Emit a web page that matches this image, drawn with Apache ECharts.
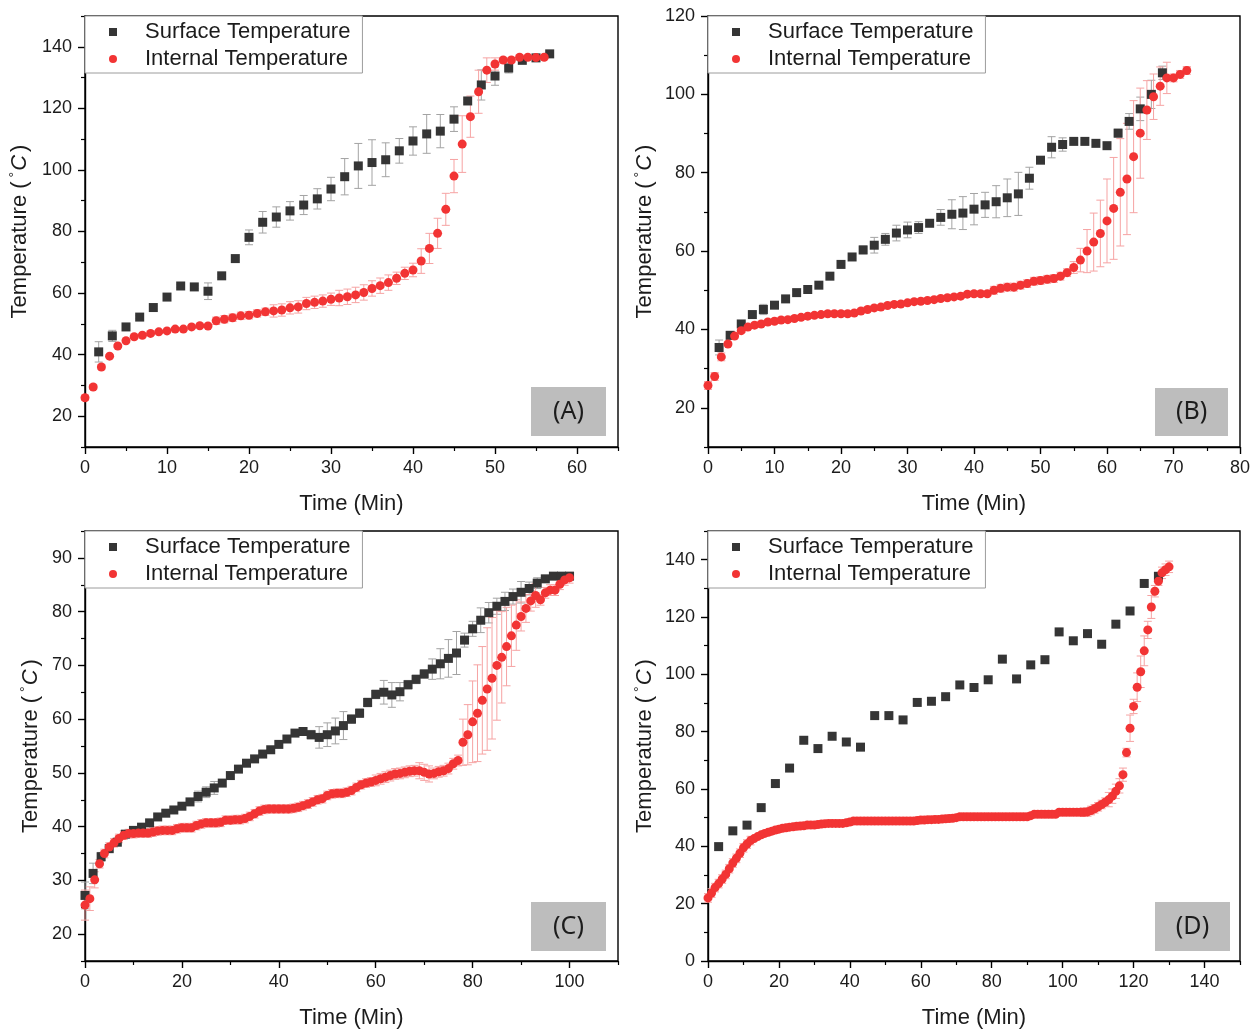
<!DOCTYPE html>
<html>
<head>
<meta charset="utf-8">
<script src="https://cdn.jsdelivr.net/npm/echarts@6/dist/echarts.min.js"></script>
<style>
  html, body { margin: 0; padding: 0; background: #fff; }
  #chart { width: 1256px; height: 1030px; }
</style>
</head>
<body>
<div id="chart"></div>
<script>
// ---------------- Panel A ----------------
// surface probe logged every 100 s, internal probe every minute
const surfaceA_t = [1.67,3.33,5,6.67,8.33,10,11.67,13.33,15,16.67,18.33,20,21.67,23.33,25,26.67,28.33,30,31.67,33.33,35,36.67,38.33,40,41.67,43.33,45,46.67,48.33,50,51.67,53.33,55,56.67];
const surfaceA = [40.9,46.1,49.0,52.2,55.3,58.7,62.3,62.0,60.6,65.6,71.2,78.1,83.0,84.7,86.7,88.6,90.6,93.8,97.8,101.3,102.4,103.3,106.2,109.4,111.7,112.6,116.5,122.4,127.6,130.5,133.1,135.6,136.4,137.7];
const surfaceAErr = [3.3,1.8,0.5,0.5,0.5,0.5,0.5,0.5,2.7,0.5,0.5,2.4,3.5,3.3,3,3.1,3.3,3.8,5.9,7.3,7.4,5.5,4,4.6,6.3,5.4,4,0.5,4.9,3,1.6,0.5,0.5,0.5];
const internalA = [26.0,29.5,36.0,39.5,42.8,44.5,45.8,46.3,46.9,47.4,
  47.7,48.3,48.3,49.0,49.4,49.3,51.0,51.5,52.0,52.6,
  52.8,53.4,53.9,54.2,54.5,55.2,55.5,56.6,57.0,57.4,
  58.0,58.4,58.8,59.4,60.2,61.5,62.4,63.4,64.8,66.4,
  67.5,70.4,74.5,79.4,87.2,98.0,108.4,117.3,125.4,132.4,
  134.4,135.7,135.7,136.6,136.6,136.5,136.6];
const internalAErr = [0.8,0.8,0.8,0.5,0.5,0.5,0.5,0.5,0.5,0.5,
  0.5,0.5,0.5,0.5,0.5,0.5,1.2,1.2,1.2,1.2,
  1.2,1.2,1.2,2,2,2,2,2,2,2,
  2,2.5,2.5,2.5,2.5,2.5,2.5,2.5,2,2,
  2.2,4,4.9,4.9,5.2,5.4,9.2,6.7,7,4,
  2,0.8,0.8,0.8,0.5,0.5,0.5];
const xLabelsA = [0,10,20,30,40,50,60];
const xMinorA = [5,15,25,35,45,55,65];
const yLabelsA = [20,40,60,80,100,120,140];
const yMinorA = [10,30,50,70,90,110,130,150];

// ---------------- Panel B ----------------
const surfaceB_t = [1.67,3.33,5,6.67,8.33,10,11.67,13.33,15,16.67,18.33,20,21.67,23.33,25,26.67,28.33,30,31.67,33.33,35,36.67,38.33,40,41.67,43.33,45,46.67,48.33,50,51.67,53.33,55,56.67,58.33,60,61.67,63.33,65,66.67,68.33];
const surfaceB = [35.4,38.5,41.4,43.8,45.1,46.2,47.8,49.4,50.2,51.3,53.6,56.6,58.5,60.3,61.5,63.0,64.6,65.4,66.0,67.1,68.6,69.4,69.7,70.7,71.8,72.6,73.6,74.6,78.6,83.2,86.5,87.2,88.0,88.0,87.5,86.9,90.1,93.1,96.3,100.0,105.5];
const surfaceBErr = [1.9,1,0.5,0.5,1.3,0.5,0.5,0.5,0.5,0.5,0.5,0.5,0.5,1,2,1.5,2,2,1.5,0.5,2,3.7,4.2,4,3.2,4.1,4.8,5.5,2.8,0.5,2.7,1.7,0.5,0.5,0.5,0.5,1,2,3,3.6,1.7];
const internalB = [25.7,28.0,33.0,36.3,38.3,39.7,40.6,41.1,41.4,41.9,
  42.1,42.4,42.5,42.8,43.1,43.4,43.6,43.8,44.0,44.0,
  44.0,44.0,44.2,44.7,45.1,45.5,45.7,46.1,46.4,46.5,
  46.8,47.1,47.2,47.4,47.6,47.9,48.1,48.3,48.5,49.0,
  49.1,49.1,49.1,50.0,50.5,50.8,50.8,51.3,51.7,52.3,
  52.5,52.8,53.0,53.6,54.5,55.8,57.7,60.0,62.3,64.5,
  67.7,70.9,75.0,78.4,84.1,90.1,96.0,99.4,102.1,104.2,
  104.2,105.1,106.1];
const internalBErr = [1,1,1,0.5,0.5,0.5,0.5,0.5,0.5,0.5,
  0.5,0.5,0.5,0.5,0.5,0.5,0.5,0.5,0.5,0.5,
  0.5,0.5,0.5,0.5,0.5,0.5,0.5,0.5,0.5,0.5,
  0.5,0.5,0.5,0.5,0.5,0.5,0.5,0.5,0.5,0.5,
  0.5,0.5,0.5,1,1,1,1,1,1,1,
  1,1,1,1,1,1.5,3,5.5,7.4,8.5,
  10.7,13,13.7,14.2,14.3,11.5,7.5,5.8,4.9,4,
  1,1,1];
const xLabelsB = [0,10,20,30,40,50,60,70,80];
const xMinorB = [5,15,25,35,45,55,65,75];
const yLabelsB = [20,40,60,80,100,120];
const yMinorB = [10,30,50,70,90,110];

// ---------------- Panel C ----------------
const surfaceC_t = [0,1.67,3.33,5,6.67,8.33,10,11.67,13.33,15,16.67,18.33,20,21.67,23.33,25,26.67,28.33,30,31.67,33.33,35,36.67,38.33,40,41.67,43.33,45,46.67,48.33,50,51.67,53.33,55,56.67,58.33,60,61.67,63.33,65,66.67,68.33,70,71.67,73.33,75,76.67,78.33,80,81.67,83.33,85,86.67,88.33,90,91.67,93.33,95,96.67,98.33,100];
const surfaceC = [27.2,31.3,34.4,35.9,37.1,38.6,39.3,39.9,40.7,41.8,
  42.5,43.1,43.8,44.6,45.6,46.4,47.2,48.1,49.5,50.7,
  51.8,52.6,53.5,54.3,55.3,56.3,57.4,57.7,57.1,56.6,
  57.1,57.8,58.8,60.0,61.1,63.1,64.6,65.0,64.5,65.1,
  66.4,67.4,68.4,69.3,70.3,71.3,72.3,74.7,76.8,78.4,
  79.8,81.0,81.9,82.8,83.6,84.3,85.3,86.1,86.6,86.6,
  86.6];
const surfaceCErr = [2.5,1.9,0.8,0.5,0.5,0.5,0.5,0.5,0.5,0.5,
  0.5,0.5,0.5,0.5,1,1,1.2,0.5,0.5,0.5,
  0.5,0.5,0.5,0.5,0.5,0.5,0.5,0.5,0.8,2,
  2.2,2.4,2.6,0.8,0.8,0.8,0.8,2.2,2.3,1.7,
  0.8,0.8,0.8,1.9,2.8,3.5,4,1.3,1.4,2.3,
  1.9,1.5,1.7,1.4,2,1.2,1,0.5,0.5,0.5,
  0.5];
const internalC = [25.4,26.6,30.1,33.1,35.0,36.2,37.0,37.8,38.4,38.7,
  38.7,38.8,38.8,38.8,39.0,39.2,39.3,39.3,39.3,39.6,
  39.8,39.8,39.8,40.2,40.5,40.7,40.7,40.7,40.8,41.2,
  41.2,41.3,41.3,41.5,41.9,42.4,42.9,43.2,43.3,43.3,
  43.3,43.3,43.3,43.4,43.6,43.9,44.2,44.6,45.0,45.2,
  45.8,46.1,46.2,46.2,46.4,46.7,47.3,47.8,48.1,48.3,
  48.6,48.9,49.2,49.5,49.8,49.9,50.1,50.3,50.4,50.4,
  50.1,49.8,49.9,50.2,50.4,50.8,51.7,52.3,55.7,57.1,
  59.5,61.1,63.5,65.6,67.6,70.0,71.5,73.5,75.5,77.5,
  79.1,80.6,82.0,83.0,82.2,83.5,84.0,84.0,85.1,85.9,
  86.3];
const internalCErr = [2.8,2.2,1.5,0.8,0.8,0.8,0.8,0.8,0.8,0.8,
  0.8,0.8,0.8,0.8,0.8,0.8,0.8,0.8,0.8,0.8,
  0.8,0.8,0.8,0.8,0.8,0.8,0.8,0.8,0.8,0.8,
  0.8,0.8,0.8,0.8,0.8,0.8,0.8,0.8,0.8,0.8,
  0.8,0.8,0.8,0.8,0.8,0.8,0.8,0.8,0.8,0.8,
  0.8,0.8,0.8,0.8,0.8,0.8,0.8,0.8,0.8,0.8,
  1,1,1,1,1,1,1,1,1,1.5,
  1.5,1.5,1,1,1,1,1,1,4.3,5.6,
  7.6,9,10,11.4,11.3,10.2,8.5,7.3,5.7,4.7,
  2.7,2.6,1.9,2.2,1,1,1,1,1,1,
  1];
const xLabelsC = [0,20,40,60,80,100];
const xMinorC = [10,30,50,70,90,110];
const yLabelsC = [20,30,40,50,60,70,80,90];
const yMinorC = [15,25,35,45,55,65,75,85,95];

// ---------------- Panel D ----------------
const surfaceD_t = [3,7,11,15,19,23,27,31,35,39,43,47,51,55,59,63,67,71,75,79,83,87,91,95,99,103,107,111,115,119,123,127];
const surfaceD = [39.9,45.4,47.4,53.5,61.9,67.3,77.0,74.1,78.4,76.4,74.6,85.6,85.6,84.1,90.2,90.6,92.2,96.3,95.4,98.1,105.3,98.4,103.3,105.1,114.8,111.7,114.2,110.5,117.5,122.1,131.7,134.2];
const internalD = [22.0,23.7,25.6,27.0,28.6,30.2,32.2,34.2,35.8,37.6,
  39.5,40.8,42.0,42.7,43.4,44.0,44.5,44.9,45.3,45.7,
  46.0,46.3,46.5,46.7,46.8,47.0,47.1,47.2,47.4,47.4,
  47.4,47.6,47.8,47.9,48.0,48.0,48.0,48.0,48.0,48.2,
  48.5,48.8,48.8,48.8,48.8,48.8,48.8,48.8,48.8,48.8,
  48.8,48.8,48.8,48.8,48.8,48.8,48.8,48.8,48.8,49.0,
  49.2,49.2,49.3,49.3,49.4,49.4,49.5,49.6,49.7,49.8,
  50.0,50.3,50.3,50.3,50.3,50.3,50.3,50.3,50.3,50.3,
  50.3,50.3,50.3,50.3,50.3,50.3,50.3,50.3,50.3,50.3,
  50.3,50.7,51.2,51.2,51.2,51.2,51.2,51.2,51.2,51.9,
  51.9,51.9,51.9,51.9,51.9,51.9,51.9,52.0,52.5,53.1,
  53.8,54.6,55.4,56.3,57.5,59.2,61.1,65.0,72.7,81.2,
  88.8,95.5,100.9,108.2,115.5,123.5,129.0,132.5,135.4,136.5,
  137.5];
const internalDErr = [1.5,1.5,1.5,1.5,1.5,1.5,1.5,1.5,1.5,1.5,
  1.5,1.5,1.5,0,0,0,0,0,0,0,
  0,0,0,0,0,0,0,0,0,0,
  0,0,0,0,0,0,0,0,0,0,
  0,0,0,0,0,0,0,0,0,0,
  0,0,0,0,0,0,0,0,0,0,
  0,0,0,0,0,0,0,0,0,0,
  0,0,0,0,0,0,0,0,0,0,
  0,0,0,0,0,0,0,0,0,0,
  0,0,0,0,0,0,0,0,0,0,
  0,0,0,0,0,0,1.5,1.5,1.5,1.5,
  1.5,1.5,1.5,2.5,2.5,2.5,2.5,2.3,1.5,4.6,
  2.5,5,5.5,5.2,3,4,2,1.5,2,2,
  2];
const xLabelsD = [0,20,40,60,80,100,120,140];
const xMinorD = [10,30,50,70,90,110,130,150];
const yLabelsD = [0,20,40,60,80,100,120,140];
const yMinorD = [10,30,50,70,90,110,130,150];

// ---------------- styling ----------------
const FONT = '"Liberation Sans", Arial, Helvetica, sans-serif';
const INK = '#1c1c1c';
const SURFACE_COLOR = '#353535';
const INTERNAL_COLOR = '#f23434';
const SURFACE_ERR_COLOR = '#a3a3a3';
const INTERNAL_ERR_COLOR = '#f6a3a3';

const grids = [], xAxes = [], yAxes = [], series = [], legends = [], graphics = [];

function majorAxis(dim, gridIndex, a) {
  const isX = dim === 'x';
  return {
    type: 'value', gridIndex, min: a.min, max: a.max,
    position: isX ? 'bottom' : 'left',
    name: a.name, nameLocation: 'middle', nameGap: a.nameGap,
    nameTextStyle: a.nameStyle,
    axisLine: { show: true, onZero: false, lineStyle: { color: '#000', width: 1.4 } },
    axisTick: { show: true, customValues: a.labels, length: 7, lineStyle: { color: '#000', width: 1.4 } },
    axisLabel: { show: true, customValues: a.labels, fontSize: 18, fontFamily: FONT, color: INK, margin: isX ? 12 : 13 },
    splitLine: { show: false }
  };
}
function minorAxis(dim, gridIndex, a) {
  return {
    type: 'value', gridIndex, min: a.min, max: a.max,
    position: dim === 'x' ? 'bottom' : 'left', offset: 0,
    axisLine: { show: false, onZero: false },
    axisTick: { show: true, customValues: a.minor, length: 4, lineStyle: { color: '#000', width: 1.2 } },
    axisLabel: { show: false },
    splitLine: { show: false }
  };
}

function errorBars(name, xi, yi, times, vals, errs, color) {
  const data = [];
  vals.forEach((v, i) => { if (errs[i] > 0) data.push([times[i], v - errs[i], v + errs[i]]); });
  return {
    type: 'custom', name, xAxisIndex: xi, yAxisIndex: yi, silent: true, z: 2,
    encode: { x: 0, y: [1, 2] },
    renderItem(params, api) {
      const x = api.value(0);
      const top = api.coord([x, api.value(2)]);
      const bot = api.coord([x, api.value(1)]);
      const hw = 4;
      const st = { stroke: color, lineWidth: 1 };
      return {
        type: 'group',
        children: [
          { type: 'line', shape: { x1: top[0], y1: top[1], x2: bot[0], y2: bot[1] }, style: st },
          { type: 'line', shape: { x1: top[0] - hw, y1: top[1], x2: top[0] + hw, y2: top[1] }, style: st },
          { type: 'line', shape: { x1: bot[0] - hw, y1: bot[1], x2: bot[0] + hw, y2: bot[1] }, style: st }
        ]
      };
    },
    data
  };
}

const yNameStyle = {
  fontSize: 22, fontFamily: FONT, color: INK,
  rich: {
    deg: { fontSize: 14, fontFamily: FONT, color: INK, padding: [0, 1, 10, 4] },
    it: { fontSize: 22, fontFamily: FONT, fontStyle: 'italic', color: INK, padding: [0, 3, 0, 0] }
  }
};
const xNameStyle = { fontSize: 22, fontFamily: FONT, color: INK };

function addPanel(p) {
  const gi = grids.length;
  const [left, top, width, height] = p.box;
  grids.push({ left, top, width, height, show: true, borderColor: '#000', borderWidth: 1.4, backgroundColor: '#fff' });
  const xi = xAxes.length, yi = yAxes.length;
  const xa = { min: p.xMin, max: p.xMax, labels: p.xLabels, minor: p.xMinor, name: 'Time (Min)', nameGap: 46, nameStyle: xNameStyle };
  const ya = { min: p.yMin, max: p.yMax, labels: p.yLabels, minor: p.yMinor, name: 'Temperature ({deg|°}{it|C})', nameGap: p.yNameGap, nameStyle: yNameStyle };
  xAxes.push(majorAxis('x', gi, xa), minorAxis('x', gi, xa));
  yAxes.push(majorAxis('y', gi, ya), minorAxis('y', gi, ya));

  const surfPts = p.surfT.map((t, i) => [t, p.surf[i]]);
  const intT = p.internal.map((v, i) => i); // one reading per minute
  const intPts = p.internal.map((v, i) => [i, v]);

  if (p.surfErr) series.push(errorBars('surface-err', xi, yi, p.surfT, p.surf, p.surfErr, SURFACE_ERR_COLOR));
  series.push(errorBars('internal-err', xi, yi, intT, p.internal, p.internalErr, INTERNAL_ERR_COLOR));
  series.push({
    type: 'scatter', name: 'Surface Temperature', xAxisIndex: xi, yAxisIndex: yi,
    symbol: 'rect', symbolSize: 9, itemStyle: { color: SURFACE_COLOR, opacity: 1 }, z: 3, data: surfPts
  });
  series.push({
    type: 'scatter', name: 'Internal Temperature', xAxisIndex: xi, yAxisIndex: yi,
    symbol: 'circle', symbolSize: 9, itemStyle: { color: INTERNAL_COLOR, opacity: 1 }, z: 4, data: intPts
  });

  legends.push({
    left, top, orient: 'vertical', selectedMode: false,
    padding: [4, 12, 2, 24], itemGap: 3, itemWidth: 8, itemHeight: 8,
    borderColor: '#9c9c9c', borderWidth: 1, backgroundColor: '#fff', z: 10,
    data: [{ name: 'Surface Temperature', icon: 'rect' }, { name: 'Internal Temperature', icon: 'circle' }],
    textStyle: { fontSize: 22, fontFamily: FONT, color: INK, lineHeight: 24, padding: [0, 0, 0, 23] }
  });

  const [bx, by, bw, bh] = p.tagBox;
  graphics.push({ type: 'rect', z: 20, shape: { x: bx, y: by, width: bw, height: bh }, style: { fill: '#bdbdbd' } });
  graphics.push({
    type: 'text', z: 21, x: bx + bw / 2, y: by + bh / 2,
    style: { text: p.tag, font: '25px "Noto Sans", "Open Sans", sans-serif', fill: INK, align: 'center', verticalAlign: 'middle', textAlign: 'center', textVerticalAlign: 'middle' }
  });
}

addPanel({ box: [85, 16, 533, 431], xMin: 0, xMax: 65, xLabels: xLabelsA, xMinor: xMinorA,
  yMin: 10, yMax: 150, yLabels: yLabelsA, yMinor: yMinorA, yNameGap: 53,
  surfT: surfaceA_t, surf: surfaceA, surfErr: surfaceAErr, internal: internalA, internalErr: internalAErr,
  tag: '(A)', tagBox: [531, 387, 75, 49] });
addPanel({ box: [708, 16, 532, 431], xMin: 0, xMax: 80, xLabels: xLabelsB, xMinor: xMinorB,
  yMin: 10, yMax: 120, yLabels: yLabelsB, yMinor: yMinorB, yNameGap: 51,
  surfT: surfaceB_t, surf: surfaceB, surfErr: surfaceBErr, internal: internalB, internalErr: internalBErr,
  tag: '(B)', tagBox: [1155, 388, 73, 48] });
addPanel({ box: [85, 531, 533, 431], xMin: 0, xMax: 110, xLabels: xLabelsC, xMinor: xMinorC,
  yMin: 15, yMax: 95, yLabels: yLabelsC, yMinor: yMinorC, yNameGap: 42,
  surfT: surfaceC_t, surf: surfaceC, surfErr: surfaceCErr, internal: internalC, internalErr: internalCErr,
  tag: '(C)', tagBox: [531, 902, 75, 49] });
addPanel({ box: [708, 531, 532, 431], xMin: 0, xMax: 150, xLabels: xLabelsD, xMinor: xMinorD,
  yMin: 0, yMax: 150, yLabels: yLabelsD, yMinor: yMinorD, yNameGap: 51,
  surfT: surfaceD_t, surf: surfaceD, surfErr: null, internal: internalD, internalErr: internalDErr,
  tag: '(D)', tagBox: [1155, 902, 75, 49] });

const chart = echarts.init(document.getElementById('chart'), null, { renderer: 'canvas' });
chart.setOption({
  animation: false,
  backgroundColor: '#fff',
  grid: grids,
  xAxis: xAxes,
  yAxis: yAxes,
  legend: legends,
  graphic: graphics,
  series
});
</script>
</body>
</html>
